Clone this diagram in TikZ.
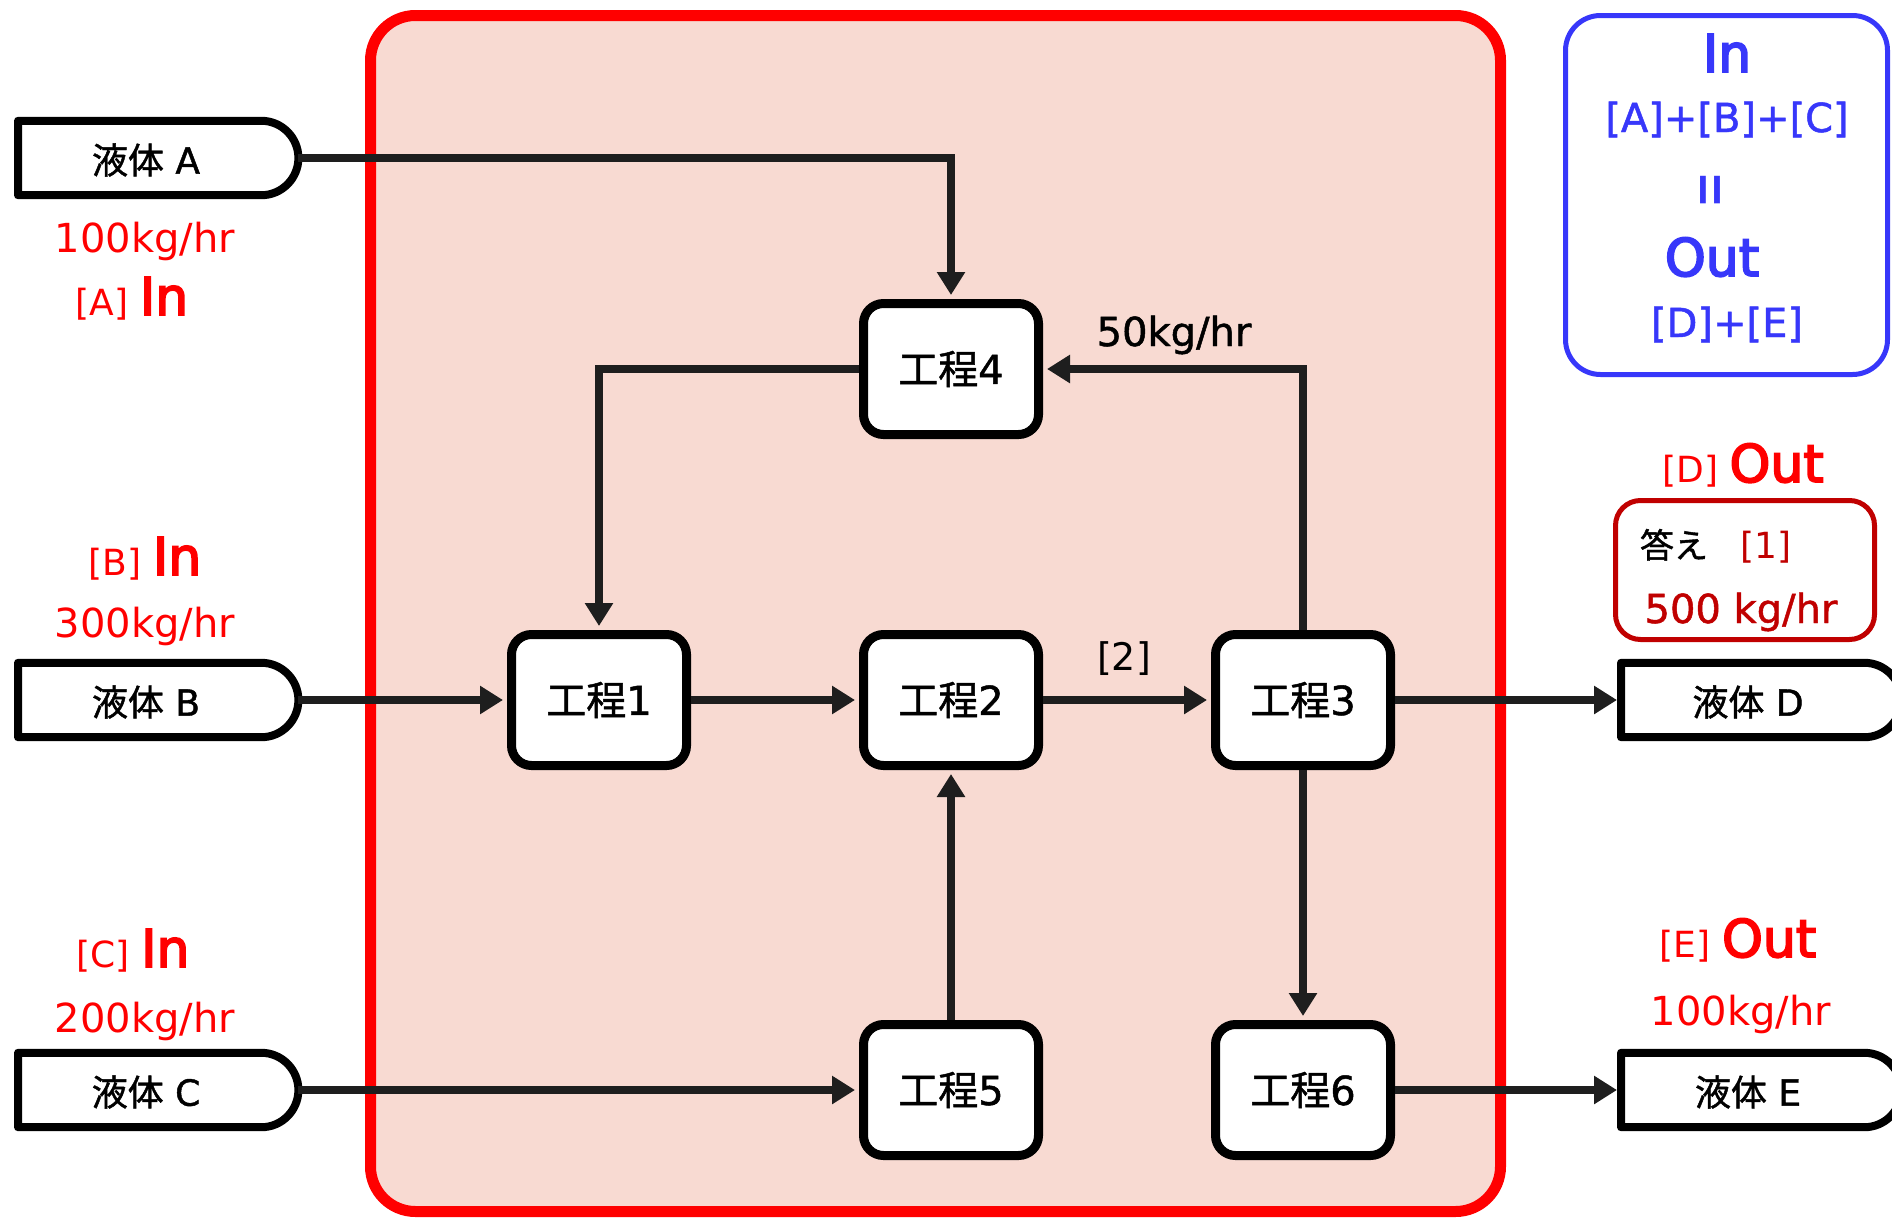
\documentclass[tikz,border=0pt]{standalone}
\usepackage{fontspec}
\usepackage{graphicx}
\setmainfont{DejaVu Sans}
\newfontfamily\jp{Noto Sans CJK JP}
\newfontfamily\jpm[FakeBold=1.2]{Noto Sans CJK JP}
\newfontfamily\latm[FakeBold=1.2]{DejaVu Sans}
\newfontfamily\semib[FakeBold=3.5]{DejaVu Sans}
\usetikzlibrary{arrows.meta}
\definecolor{pinkfill}{RGB}{248,218,210}
\definecolor{darkred}{RGB}{192,0,0}
\definecolor{blueC}{RGB}{55,55,250}
\definecolor{lineC}{RGB}{30,30,30}
\newcommand{\fsz}[1]{\fontsize{#1}{#1}\selectfont}
\newcommand{\liqbox}[3]{%
  \node[liq, anchor=west] (#1) at (#2,#3) {};
  \draw[liqborder] (#1.north west) -- ([xshift=-37pt]#1.north east)
    .. controls ([xshift=-16.6pt]#1.north east) and ([yshift=20.4pt]#1.east) .. (#1.east)
    .. controls ([yshift=-20.4pt]#1.east) and ([xshift=-16.6pt]#1.south east) .. ([xshift=-37pt]#1.south east)
    -- (#1.south west) -- cycle;
}
\begin{document}
\begin{tikzpicture}[x=1pt,y=-1pt,
  proc/.style={draw=black, line width=9pt, fill=white, rounded corners=20pt,
    minimum width=175pt, minimum height=131pt, inner sep=0pt, font=\fsz{40}},
  liq/.style={minimum width=280pt, minimum height=74pt, inner sep=0pt},
  liqtext/.style={font=\fsz{36}, inner sep=0pt},
  liqborder/.style={draw=black, line width=8pt, fill=white, line join=round},
  flow/.style={draw=lineC, line width=8pt, shorten >=4pt,
    -{Triangle[length=23pt,width=27pt]}},
  rtxt/.style={text=red, inner sep=0pt, anchor=base, font=\fsz{36}},
  btxt/.style={text=blueC, inner sep=0pt, anchor=base, font=\fsz{40}},
  ktxt/.style={text=black, inner sep=0pt, anchor=base, font=\fsz{40}},
]
\useasboundingbox (0,0) rectangle (1892,1218);

% central area
\draw[draw=red, line width=11pt, fill=pinkfill, rounded corners=45pt]
  (370.5,15.5) rectangle (1500.5,1211.5);

% liquids
\liqbox{A}{18}{158}
\liqbox{B}{18}{700}
\liqbox{C}{18}{1090}
\liqbox{D}{1621}{700}
\liqbox{E}{1621}{1090}
\node[liqtext] (Alab) at (146,160) {{\jpm 液体} {\latm A}};
\node[liqtext] (Blab) at (146,702) {{\jpm 液体} {\latm B}};
\node[liqtext] (Clab) at (146,1092) {{\jpm 液体} {\latm C}};
\node[liqtext] (Dlab) at (1748,702) {{\jpm 液体} {\latm D}};
\node[liqtext] (Elab) at (1748,1092) {{\jpm 液体} {\latm E}};

% processes
\node[proc] (p1) at (599,700) {{\jpm 工程}{\latm 1}};
\node[proc] (p2) at (951,700) {{\jpm 工程}{\latm 2}};
\node[proc] (p3) at (1303,700) {{\jpm 工程}{\latm 3}};
\node[proc] (p4) at (951,369) {{\jpm 工程}{\latm 4}};
\node[proc] (p5) at (951,1090) {{\jpm 工程}{\latm 5}};
\node[proc] (p6) at (1303,1090) {{\jpm 工程}{\latm 6}};

% flows
\draw[flow] (A.east) -| (p4.north);
\draw[flow] (p4.west) -| (p1.north);
\draw[flow] (p3.north) |- (p4.east);
\draw[flow] (B.east) -- (p1.west);
\draw[flow] (p1.east) -- (p2.west);
\draw[flow] (p2.east) -- (p3.west);
\draw[flow] (p3.east) -- (D.west);
\draw[flow] (C.east) -- (p5.west);
\draw[flow] (p5.north) -- (p2.south);
\draw[flow] (p3.south) -- (p6.north);
\draw[flow] (p6.east) -- (E.west);

% flow labels
\node[ktxt, font=\fsz{40}\latm] (l50) at (1174,346) {50kg/hr};
\node[ktxt, font=\fsz{38}] (l2) at (1124,670) {[2]};

% left labels
\node[rtxt, font=\fsz{40}] (Arate) at (145,252) {100kg/hr};
\node[rtxt] (Ain) at (132,315) {[A] {\fsz{52}\semib In}};
\node[rtxt] (Bin) at (145,575) {[B] {\fsz{52}\semib In}};
\node[rtxt, font=\fsz{40}] (Brate) at (145,637) {300kg/hr};
\node[rtxt] (Cin) at (133,967) {[C] {\fsz{52}\semib In}};
\node[rtxt, font=\fsz{40}] (Crate) at (145,1032) {200kg/hr};

% right labels
\node[rtxt] (Dout) at (1743,482) {[D] {\fsz{52}\semib Out}};
\draw[darkred, line width=5pt, rounded corners=25pt] (1615.5,500.5) rectangle (1874.5,639.5);
\node[ktxt, font=\fsz{34}\jpm] (ans) at (1674,558) {答え};
\node[ktxt, text=darkred, font=\fsz{36}] (ans1) at (1766,558) {[1]};
\node[ktxt, text=darkred, font=\fsz{40}\latm] (ans2) at (1741,623) {500 kg/hr};
\node[rtxt] (Eout) at (1738,957) {[E] {\fsz{52}\semib Out}};
\node[rtxt, font=\fsz{40}] (Erate) at (1741,1025) {100kg/hr};

% balance box
\draw[blueC, line width=5pt, rounded corners=35pt] (1565.5,15.5) rectangle (1887.5,374.5);
\node[btxt, font=\fsz{52}\semib] (bIn) at (1727,72) {In};
\node[btxt, font=\fsz{40}\latm] (bABC) at (1727,132) {[A]+[B]+[C]};
\node[btxt, anchor=center, rotate=90, font=\fsz{44}] (beq) at (1716,190) {\scalebox{1}[1.6]{=}};
\node[btxt, font=\fsz{52}\semib] (bOut) at (1712,276) {Out};
\node[btxt, font=\fsz{40}\latm] (bDE) at (1727,337) {[D]+[E]};
\end{tikzpicture}
\end{document}
